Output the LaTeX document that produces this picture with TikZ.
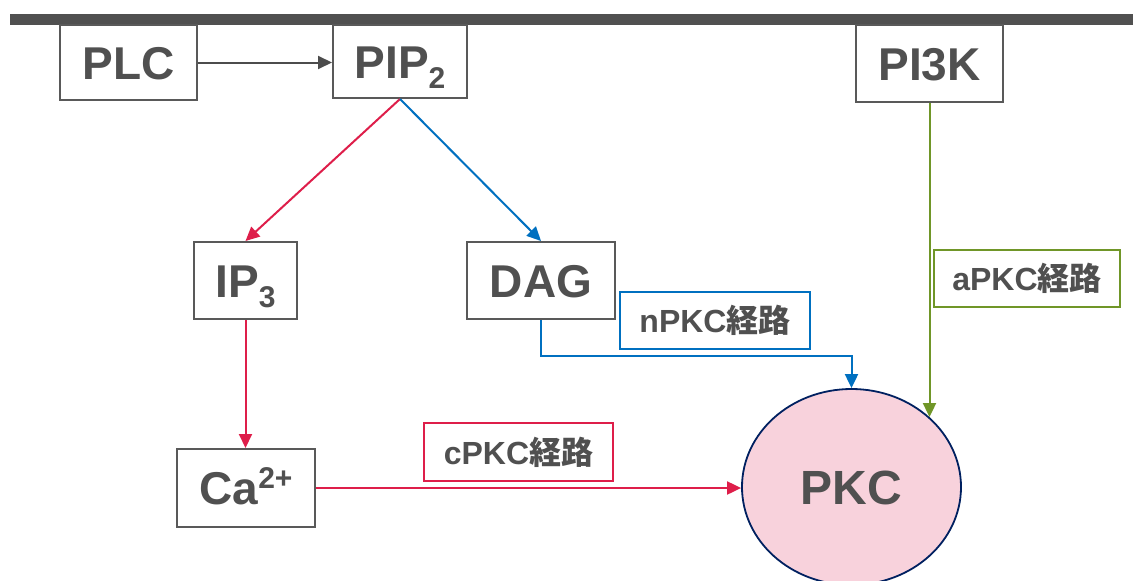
\documentclass[tikz,border=0pt]{standalone}
\usepackage{fontspec}
\setmainfont{Liberation Sans}
\newfontfamily\cjk{Noto Sans CJK JP}
\usetikzlibrary{shapes.geometric,arrows.meta}
\definecolor{txtgray}{RGB}{80,80,80}
\definecolor{boxgray}{RGB}{89,89,89}
\definecolor{barcol}{RGB}{80,80,80}
\definecolor{redc}{RGB}{222,30,74}
\definecolor{bluec}{RGB}{0,112,192}
\definecolor{greenc}{RGB}{112,150,40}
\definecolor{pinkc}{RGB}{248,210,220}
\definecolor{navyc}{RGB}{0,32,96}
\tikzset{
  mainbox/.style={draw=boxgray, line width=2pt, fill=white, text=txtgray, inner sep=0pt,
    font=\fontsize{46}{50}\selectfont\bfseries, text height=33pt, text depth=0pt},
  labelbox/.style={line width=2pt, fill=white, text=txtgray, inner sep=0pt,
    font=\fontsize{32}{34}\selectfont\bfseries, minimum height=57pt},
  conn/.style={line width=2pt, -{Triangle[length=14pt,width=13pt]}},
}
\newcommand{\kr}{{\cjk\bfseries 経路}}
\begin{document}
\begin{tikzpicture}[x=1pt,y=-1pt]
\useasboundingbox (0,0) rectangle (1133,581);
\fill[barcol] (10,14) rectangle (1133,25);
% nodes
\node[mainbox, minimum width=137pt, minimum height=75pt] (PLC) at (128.5,62.5) {PLC};
\node[mainbox, minimum width=134pt, minimum height=73pt] (PIP) at (400,61.5) {PIP\raisebox{-10pt}{\fontsize{30}{30}\selectfont 2}};
\node[mainbox, minimum width=147pt, minimum height=77pt] (PI3K) at (929.5,63.5) {PI3K};
\node[mainbox, minimum width=103pt, minimum height=77pt] (IP3) at (245.5,280.5) {IP\raisebox{-10pt}{\fontsize{30}{30}\selectfont 3}};
\node[mainbox, minimum width=148pt, minimum height=77pt] (DAG) at (541,280.5) {DAG};
\node[mainbox, minimum width=138pt, minimum height=78pt] (CA) at (246,488) {Ca\raisebox{16pt}{\fontsize{30}{30}\selectfont 2+}};
\node[ellipse, draw=navyc, line width=1.8pt, fill=pinkc, text=txtgray, inner sep=0pt,
  minimum width=219pt, minimum height=196pt, font=\fontsize{48}{50}\selectfont\bfseries,
  text height=34pt, text depth=0pt] (PKC) at (851.5,487) {PKC};
% connectors
\draw[conn, draw=boxgray!85!black, fill=boxgray!85!black] (PLC.east) -- (PLC.east -| PIP.west);
\draw[conn, redc] (PIP.south) -- (IP3.north);
\draw[conn, bluec] (PIP.south) -- (DAG.north);
\draw[conn, redc] (IP3.south) -- (IP3.south |- CA.north);
\draw[conn, redc] (CA.east) -- (CA.east -| PKC.west);
\draw[conn, bluec] (DAG.south) -- ++(0,36) -| (PKC.north);
\draw[conn, greenc] (PI3K.south) -- (PI3K.south |- PKC.north east);
% labels
\node[labelbox, draw=redc, minimum width=189pt, minimum height=58pt] (cL) at (518.5,452) {cPKC\kr};
\node[labelbox, draw=bluec, minimum width=190pt] (nL) at (715,320.5) {nPKC\kr};
\node[labelbox, draw=greenc, minimum width=186pt] (aL) at (1027,278.5) {aPKC\kr};
\end{tikzpicture}
\end{document}
